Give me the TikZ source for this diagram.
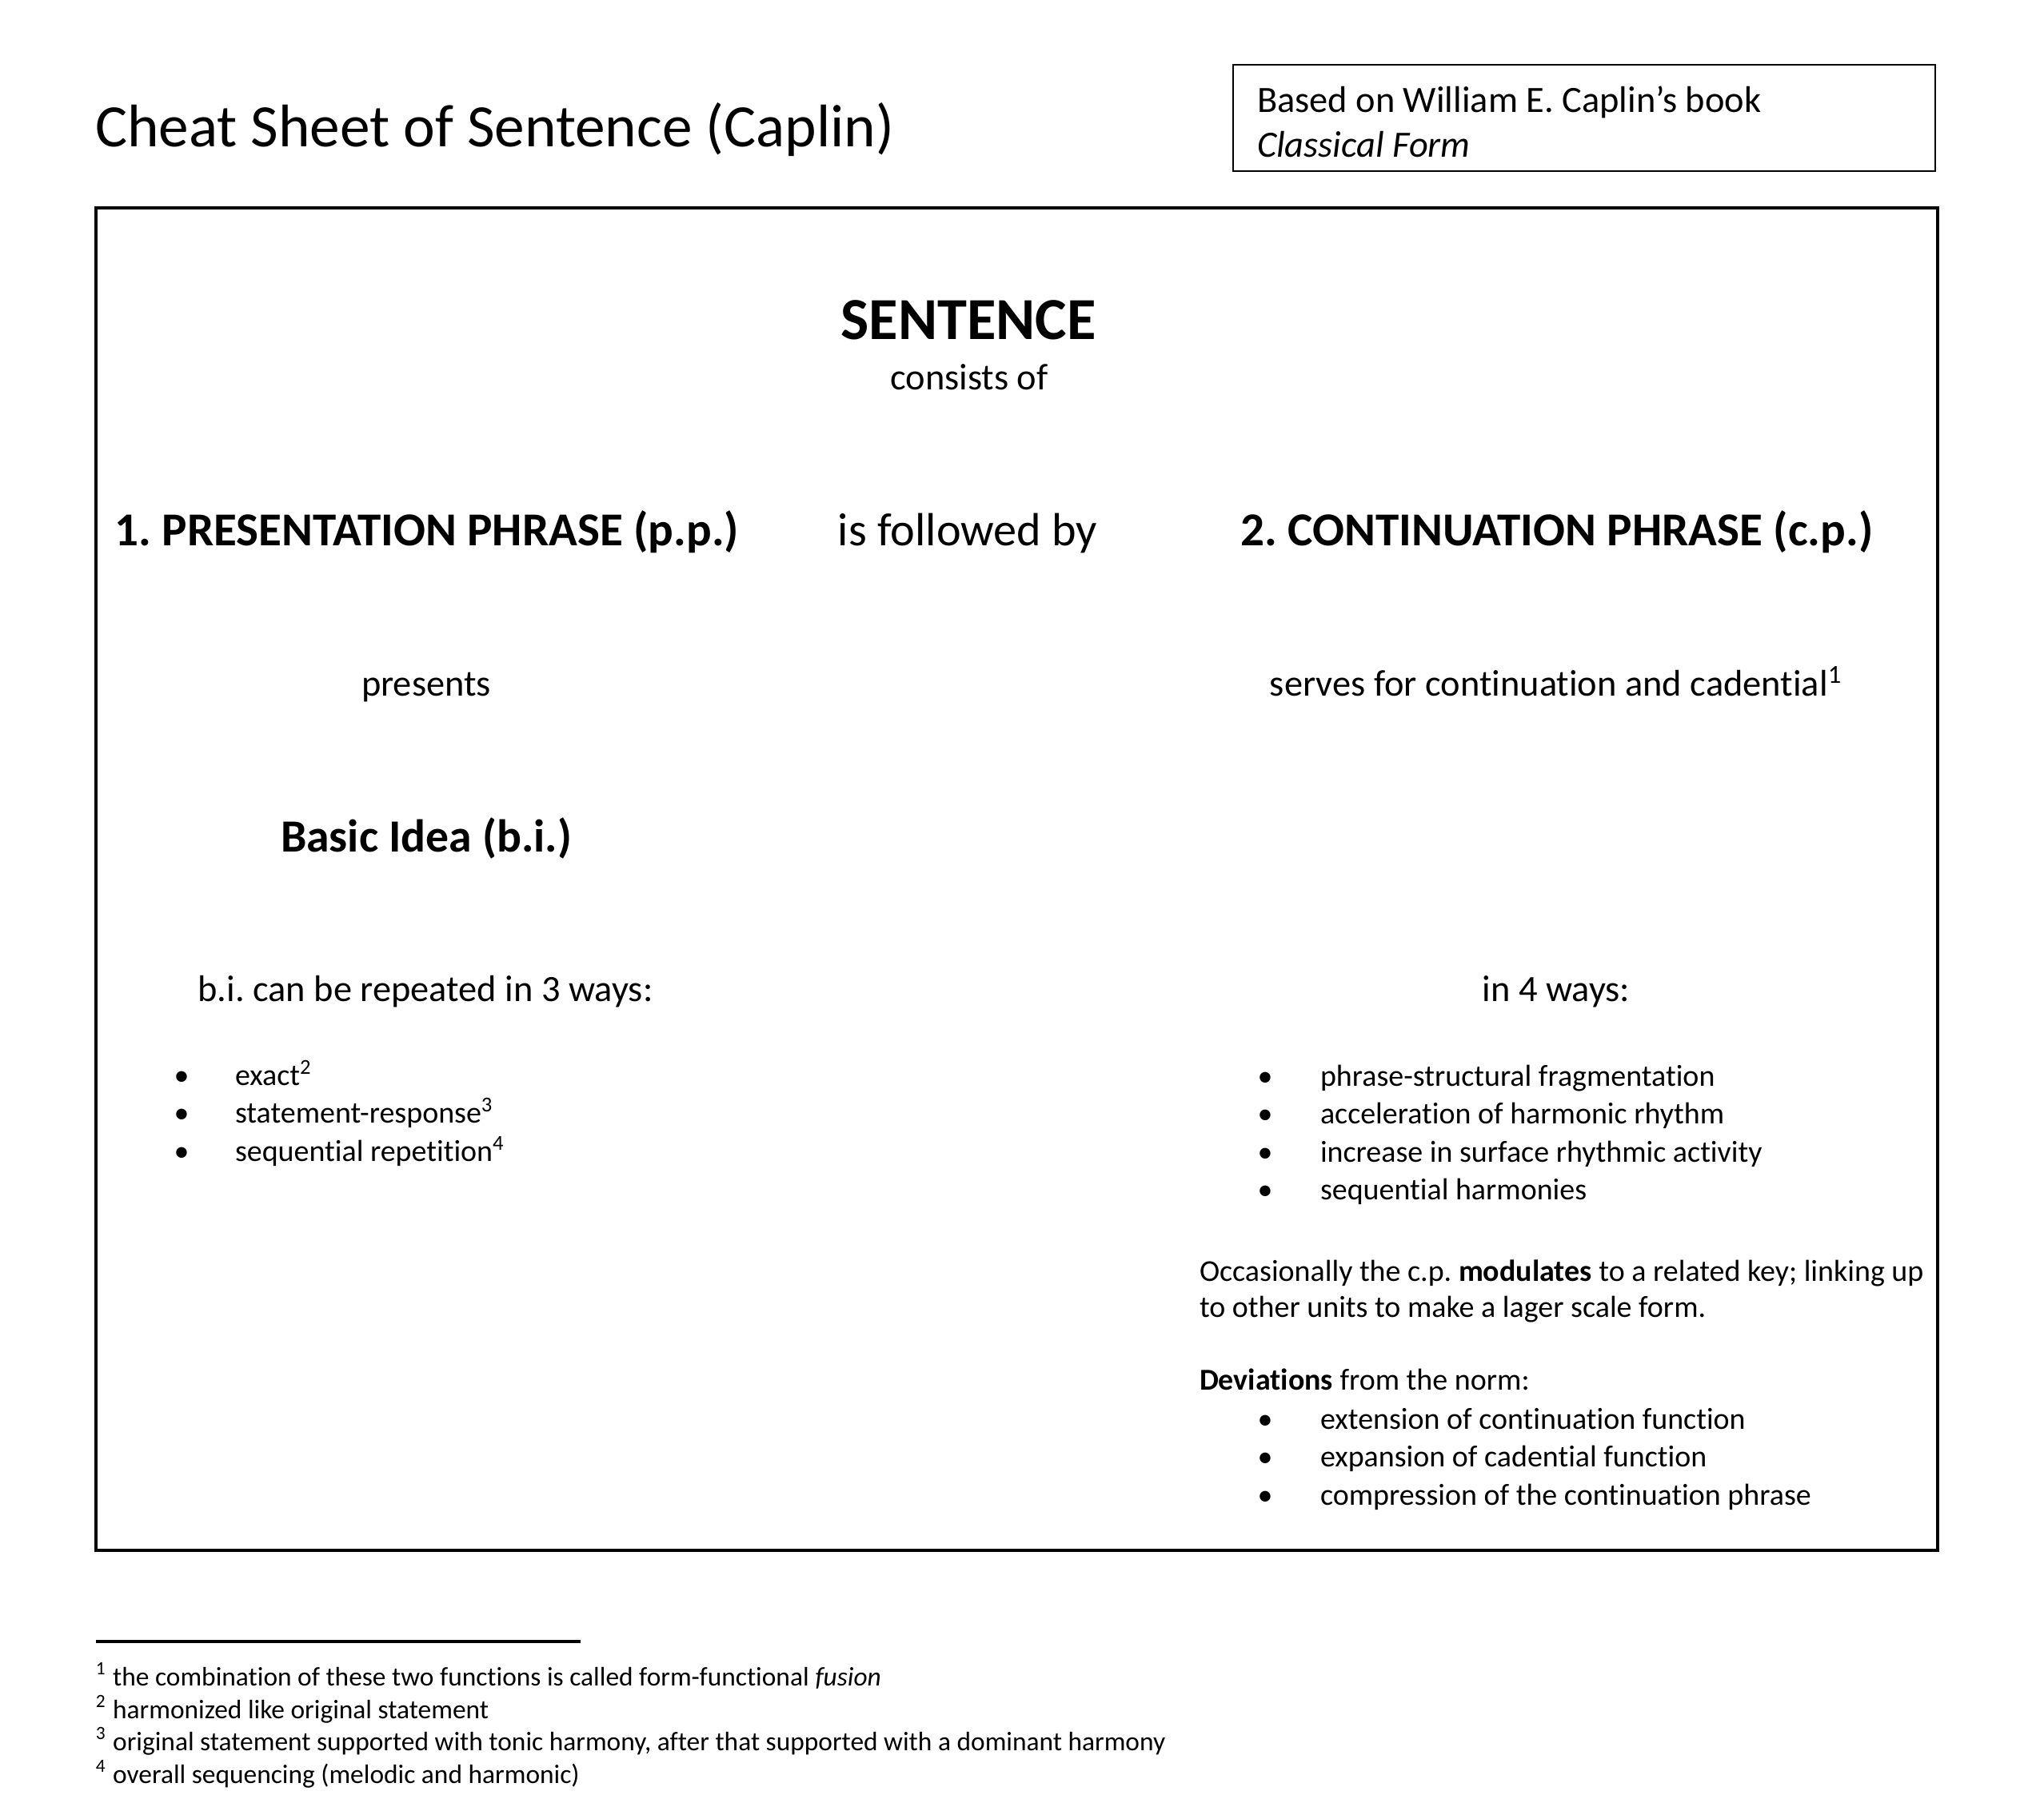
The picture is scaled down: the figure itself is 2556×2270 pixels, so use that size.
\documentclass[tikz,border=0pt]{standalone}
\usepackage{fontspec}
\setmainfont{Carlito}[Ligatures=NoCommon]
\frenchspacing
\begin{document}
\begin{tikzpicture}[x=0.01cm,y=-0.01cm,
    every node/.style={inner sep=0pt,outer sep=0pt},
    bigtitle/.style={anchor=base west,font=\fontsize{21.4}{26}\selectfont},
    headline/.style={anchor=base,font=\fontsize{16.8}{20}\selectfont\bfseries},
    midtext/.style={anchor=base,font=\fontsize{13.2}{16}\selectfont},
    listdot/.style={anchor=base,font=\fontsize{10.8}{13}\selectfont},
    listtext/.style={anchor=base west,font=\fontsize{10.8}{13}\selectfont},
    fnote/.style={anchor=base west,font=\fontsize{9.5}{11.6}\selectfont}]

    % page size
    \useasboundingbox (0,0) rectangle (2556,2270);

    % Title and source box
    \node[bigtitle] (title) at (119,184) {Cheat Sheet of Sentence (Caplin)};
    \draw[line width=0.45pt] (1542,81) rectangle (2420,214);
    \node[anchor=base west,font=\fontsize{13.2}{16}\selectfont] (src1) at (1572,141) {Based on William E. Caplin’s book};
    \node[anchor=base west,font=\fontsize{13.2}{16}\selectfont\itshape] (src2) at (1572,197) {Classical Form};

    % Main frame
    \draw[line width=1pt] (120,260) rectangle (2423,1939);

    % Top level
    \node[anchor=base,font=\fontsize{21.2}{25}\selectfont\bfseries] (sent) at (1211,425) {SENTENCE};
    \node[midtext] (consist) at (1212,488) {consists of};

    % The two phrases
    \node[headline] (pp) at (534,683) {1. PRESENTATION PHRASE (p.p.)};
    \node[anchor=base,font=\fontsize{16.55}{20}\selectfont] (follow) at (1210,683) {is followed by};
    \node[headline] (cp) at (1947,683) {2. CONTINUATION PHRASE (c.p.)};

    % Left column
    \node[midtext] (presents) at (533,870) {presents};
    \node[anchor=base,font=\fontsize{16.4}{20}\selectfont\bfseries] (bi) at (533,1065) {Basic Idea (b.i.)};
    \node[midtext] (rep) at (532,1252) {b.i. can be repeated in 3 ways:};

    \node[listdot] (ld1) at (227,1357) {•};
    \node[listtext] (lt1) at (294,1357) {exact\textsuperscript{2}};
    \node[listdot] (ld2) at (227,1404) {•};
    \node[listtext] (lt2) at (294,1404) {statement-response\textsuperscript{3}};
    \node[listdot] (ld3) at (227,1452) {•};
    \node[listtext] (lt3) at (294,1452) {sequential repetition\textsuperscript{4}};

    % Right column
    \node[midtext] (serves) at (1946,870) {serves for continuation and cadential\textsuperscript{1}};
    \node[midtext] (ways) at (1946,1252) {in 4 ways:};

    \node[listdot] (rd1) at (1582,1358) {•};
    \node[listtext] (rt1) at (1651,1358) {phrase-structural fragmentation};
    \node[listdot] (rd2) at (1582,1405) {•};
    \node[listtext] (rt2) at (1651,1405) {acceleration of harmonic rhythm};
    \node[listdot] (rd3) at (1582,1453) {•};
    \node[listtext] (rt3) at (1651,1453) {increase in surface rhythmic activity};
    \node[listdot] (rd4) at (1582,1500) {•};
    \node[listtext] (rt4) at (1651,1500) {sequential harmonies};

    % Modulation remark
    \node[listtext] (mod1) at (1500,1602) {Occasionally the c.p. \textbf{modulates} to a related key; linking up};
    \node[listtext] (mod2) at (1500,1647) {to other units to make a lager scale form.};

    % Deviations
    \node[listtext] (dev) at (1500,1738) {\textbf{Deviations} from the norm:};
    \node[listdot] (dd1) at (1582,1787) {•};
    \node[listtext] (dt1) at (1651,1787) {extension of continuation function};
    \node[listdot] (dd2) at (1582,1834) {•};
    \node[listtext] (dt2) at (1651,1834) {expansion of cadential function};
    \node[listdot] (dd3) at (1582,1882) {•};
    \node[listtext] (dt3) at (1651,1882) {compression of the continuation phrase};

    % Footnotes
    \draw[line width=1.1pt] (120,2053) -- (726,2053);
    \node[fnote] (fn1) at (120,2108) {\textsuperscript{1} the combination of these two functions is called form-functional \textit{fusion}};
    \node[fnote] (fn2) at (120,2149) {\textsuperscript{2} harmonized like original statement};
    \node[fnote] (fn3) at (120,2189) {\textsuperscript{3} original statement supported with tonic harmony, after that supported with a dominant harmony};
    \node[fnote] (fn4) at (120,2230) {\textsuperscript{4} overall sequencing (melodic and harmonic)};
\end{tikzpicture}
\end{document}
